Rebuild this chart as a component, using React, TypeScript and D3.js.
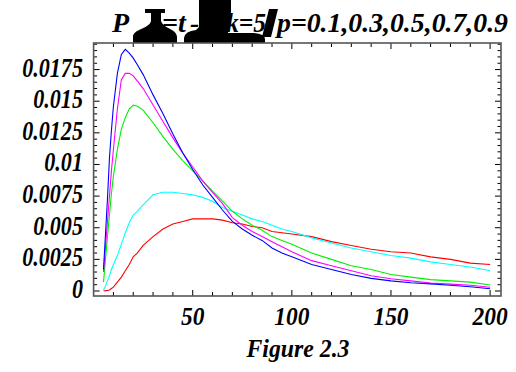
import React from "react";
import * as d3 from "d3";

const tValues = [5, 6, 7, 8, 9, 10, 12, 14, 16, 18, 20, 22, 25, 30, 35, 40, 45, 50, 55, 60, 65, 70, 75, 80, 85, 90, 95, 100, 110, 120, 130, 140, 150, 160, 170, 180, 190, 200];

const seriesP09 = [0.0017, 0.0045, 0.0073, 0.0105, 0.0127, 0.0146, 0.0172, 0.0187, 0.0191, 0.0188, 0.0184, 0.0179, 0.0171, 0.0155, 0.014, 0.0124, 0.0109, 0.0096, 0.0084, 0.0074, 0.0064, 0.0055, 0.0049, 0.0044, 0.004, 0.0034, 0.003, 0.0027, 0.0021, 0.0017, 0.0013, 0.001, 0.0008, 0.00065, 0.00056, 0.00045, 0.00033, 0.00018];
const seriesP07 = [0.0015, 0.0035, 0.0055, 0.0075, 0.0095, 0.0112, 0.0144, 0.0167, 0.0172, 0.0172, 0.017, 0.0166, 0.016, 0.0147, 0.0134, 0.0121, 0.0109, 0.0098, 0.0087, 0.0078, 0.0069, 0.0058, 0.0052, 0.0047, 0.0043, 0.0039, 0.0035, 0.0031, 0.0024, 0.002, 0.0016, 0.0012, 0.00097, 0.0008, 0.00063, 0.00054, 0.00045, 0.0003];
const seriesP05 = [0.0007, 0.0025, 0.0043, 0.006, 0.0077, 0.0091, 0.0112, 0.0128, 0.0137, 0.0144, 0.0147, 0.0146, 0.0143, 0.0133, 0.0122, 0.0112, 0.0103, 0.0095, 0.0087, 0.0079, 0.0071, 0.0063, 0.0057, 0.0052, 0.0048, 0.0043, 0.004, 0.0037, 0.003, 0.0025, 0.002, 0.0017, 0.0013, 0.0011, 0.0009, 0.0008, 0.0007, 0.00047];
const seriesP03 = [0.00008, 0.0004, 0.0008, 0.0012, 0.0017, 0.0021, 0.0028, 0.0037, 0.0046, 0.0054, 0.006, 0.0063, 0.0068, 0.0076, 0.0078, 0.0078, 0.0077, 0.0076, 0.0074, 0.0071, 0.0066, 0.0063, 0.006, 0.0057, 0.0055, 0.0052, 0.0049, 0.0047, 0.0042, 0.0038, 0.0034, 0.0031, 0.0028, 0.0026, 0.0023, 0.0021, 0.0019, 0.0016];
const seriesP01 = [0.00002, 0.00003, 0.00005, 0.00008, 0.0002, 0.0003, 0.0007, 0.0011, 0.0016, 0.0021, 0.0027, 0.003, 0.0036, 0.0043, 0.0049, 0.0053, 0.0055, 0.0057, 0.0057, 0.0057, 0.0056, 0.0054, 0.0053, 0.0051, 0.005, 0.0047, 0.0046, 0.0045, 0.0043, 0.0039, 0.0036, 0.0033, 0.0031, 0.003, 0.0027, 0.0025, 0.0022, 0.0021];

const seriesList = [
  { name: "p=0.1", values: seriesP01, color: "#ff0000" },
  { name: "p=0.3", values: seriesP03, color: "#00ffff" },
  { name: "p=0.5", values: seriesP05, color: "#00f000" },
  { name: "p=0.7", values: seriesP07, color: "#ff00ff" },
  { name: "p=0.9", values: seriesP09, color: "#0000ff" },
];

const xTickLabels = [50, 100, 150, 200];
const yTickLabels = ["0", "0.0025", "0.005", "0.0075", "0.01", "0.0125", "0.015", "0.0175"];
const titleParts = ["P", "=t", "-", "k=5", "p=0.1,0.3,0.5,0.7,0.9"];
const caption = "Figure 2.3";

const W = 516;
const H = 372;
const left = 93.6;
const right = 501;
const top = 43;
const bottom = 296;

const FONT = "'Liberation Serif', 'Times New Roman', serif";

export default function App() {
  const x = d3.scaleLinear().domain([0, 205.5]).range([left, right]);
  const y = d3.scaleLinear().domain([-0.000395, 0.0196]).range([bottom, top]);
  const line = d3
    .line<number>()
    .x((_, i) => x(tValues[i]))
    .y((d) => y(d));

  const xMinor = d3.range(10, 201, 10);
  const yMinor = d3.range(0, 0.01951, 0.0005);

  const textStyle = { fontFamily: FONT, fontWeight: "bold" as const, fontStyle: "italic" as const };

  return (
    <svg width={W} height={H} style={{ position: "absolute", left: 0, top: 0, background: "#fff" }}>
      <rect x={0} y={0} width={W} height={H} fill="#fff" />
      {/* title */}
      <g style={textStyle} fill="#000">
        <text x={112} y={32} fontSize={28}>{titleParts[0]}</text>
        <path d="M133,43 L133,37 C133,29 149,29 151,21 L151,13 L145,13 L145,9 L165,9 L165,13 L161,13 L161,21 C164,29 177,29 177,37 L177,43 Z" fill="#000" />
        <text x={162} y={32} fontSize={28}>{titleParts[1]}</text>
        <text x={190} y={32} fontSize={28}>{titleParts[2]}</text>
        <path d="M199,0 L231,0 L231,14 L228,33 L254,33 Q265,34 265,39 L265,43 L184,43 L184,38 Q185,31 196,30 L199,27 Z" fill="#000" />
        <text x={226} y={32} fontSize={28} textLength={40} lengthAdjust="spacingAndGlyphs">{titleParts[3]}</text>
        <path d="M269,9 L278,9 L271,37 L262,37 Z" fill="#000" />
        <text x={277} y={32} fontSize={28} textLength={231} lengthAdjust="spacingAndGlyphs">{titleParts[4]}</text>
      </g>

      {/* curves */}
      <defs>
        <clipPath id="plotclip">
          <rect x={left} y={top} width={right - left} height={bottom - top} />
        </clipPath>
      </defs>
      <g clipPath="url(#plotclip)">
        {seriesList.map((s) => (
          <path key={s.name} d={line(s.values) || ""} fill="none" stroke={s.color} strokeWidth={1.1} />
        ))}
      </g>

      {/* ticks */}
      <g stroke="#000" strokeWidth={1}>
        {xMinor.map((t) => {
          const len = t % 50 === 0 ? 6 : 4;
          return (
            <g key={"xt" + t}>
              <line x1={x(t)} x2={x(t)} y1={bottom} y2={bottom - len} />
              <line x1={x(t)} x2={x(t)} y1={top} y2={top + len} />
            </g>
          );
        })}
        {yMinor.map((v, i) => {
          const len = i % 5 === 0 ? 6 : 3.5;
          return (
            <g key={"yt" + i}>
              <line x1={left} x2={left + len} y1={y(v)} y2={y(v)} />
              <line x1={right} x2={right - len} y1={y(v)} y2={y(v)} />
            </g>
          );
        })}
      </g>

      {/* frame */}
      <rect x={left} y={top} width={right - left} height={bottom - top} fill="none" stroke="#555" strokeWidth={1.6} />

      {/* y labels */}
      <g style={textStyle} fill="#000" fontSize={27}>
        {yTickLabels.map((lab, i) => (
          <g key={lab} transform={`translate(83,${y(i * 0.0025) + 7}) scale(0.82,1)`}>
            <text x={0} y={0} textAnchor="end">{lab}</text>
          </g>
        ))}
      </g>
      {/* x labels */}
      <g style={textStyle} fill="#000" fontSize={26}>
        {xTickLabels.map((t) => (
          <g key={t} transform={`translate(${x(t)},325) scale(0.9,1)`}>
            <text x={0} y={0} textAnchor="middle">{t}</text>
          </g>
        ))}
      </g>
      <text x={298} y={357} textAnchor="middle" style={textStyle} fontSize={26} fill="#000" textLength={103} lengthAdjust="spacingAndGlyphs">{caption}</text>
    </svg>
  );
}
